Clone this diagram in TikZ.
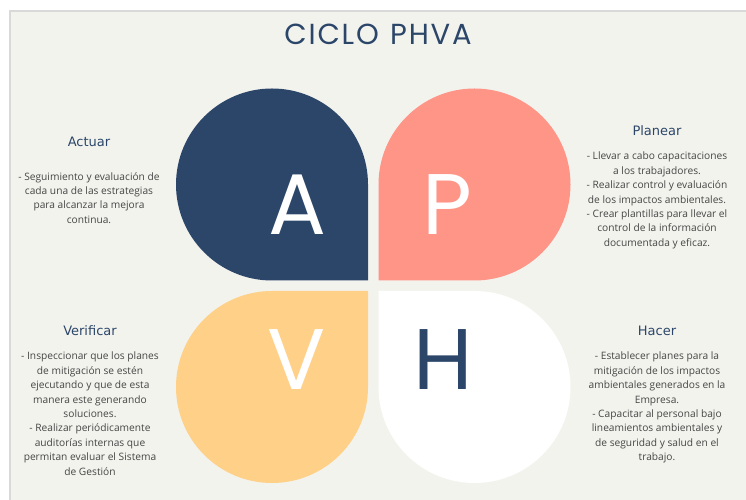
\documentclass[tikz,border=0pt]{standalone}
\usepackage{fontspec}
\setmainfont{Open Sans}
\newfontfamily\titlefont{Poppins}
\newfontfamily\headfont{DejaVu Sans}

\definecolor{azul}{HTML}{2B4669}
\definecolor{salmon}{HTML}{FF9587}
\definecolor{amarillo}{HTML}{FFD088}
\definecolor{fondo}{HTML}{F3F3EE}
\definecolor{borde}{HTML}{D9D9D9}
\definecolor{cuerpo}{HTML}{454545}

% one leaf: centre x, centre y, rotation, colour
\newcommand{\hoja}[4]{%
  \fill[#4,shift={(#1,#2)},rotate=#3] (96,-96) -- (96,0) arc (0:180:96) arc (180:270:96) -- cycle;}
\newcommand{\sep}{\kern1.8pt}

\begin{document}
\begin{tikzpicture}[x=1pt,y=1pt,
  letra/.style={font=\titlefont\fontsize{86}{86}\selectfont,inner sep=0},
  titulo/.style={font=\headfont\fontsize{13}{13}\selectfont,text=azul,inner sep=0},
  texto/.style={font=\fontsize{10.2}{14.4}\selectfont,text=cuerpo,align=center,inner sep=0,anchor=north}]
	\useasboundingbox (0,0) rectangle (746,500);
	\fill[white] (0,0) rectangle (746,500);
	\fill[fondo] (10,0) rectangle (746,489);
	\draw[borde,line width=1.2] (10,0) -- (10,489) -- (746,489);
	\node[font=\titlefont\fontsize{29}{29}\selectfont,text=azul] (ciclo) at (378,466) {C\sep I\sep C\sep L\sep O\sep{} \sep P\sep H\sep V\sep A};
	% the four leaves
	\hoja{272}{315.5}{0}{azul}
	\hoja{474.5}{315.5}{-90}{salmon}
	\hoja{272}{113}{90}{amarillo}
	\hoja{474.5}{113}{180}{white}
	\node[letra,text=white] (a) at (297,295) {A};
	\node[letra,text=white] (p) at (447,295) {P};
	\node[letra,text=white] (v) at (297,140) {V};
	\node[letra,text=azul] (h) at (443,140) {H};
	% texts
	\node[titulo] (actuar) at (89,358) {Actuar};
	\node[texto] (actuartxt) at (89,328) {- Seguimiento y evaluación de\\cada una de las estrategias\\para alcanzar la mejora\\continua.};
	\node[titulo] (planear) at (657,369) {Planear};
	\node[texto] (planeartxt) at (657,348) {- Llevar a cabo capacitaciones\\a los trabajadores.\\- Realizar control y evaluación\\de los impactos ambientales.\\- Crear plantillas para llevar el\\control de la información\\documentada y eficaz.};
	\node[titulo] (verificar) at (90,169) {Verificar};
	\node[texto] (verificartxt) at (90,148) {- Inspeccionar que los planes\\de mitigación se estén\\ejecutando y que de esta\\manera este generando\\soluciones.\\- Realizar periódicamente\\auditorías internas que\\permitan evaluar el Sistema\\de Gestión};
	\node[titulo] (hacer) at (657,169) {Hacer};
	\node[texto] (hacertxt) at (657,148) {- Establecer planes para la\\mitigación de los impactos\\ambientales generados en la\\Empresa.\\- Capacitar al personal bajo\\lineamientos ambientales y\\de seguridad y salud en el\\trabajo.};
\end{tikzpicture}
\end{document}
